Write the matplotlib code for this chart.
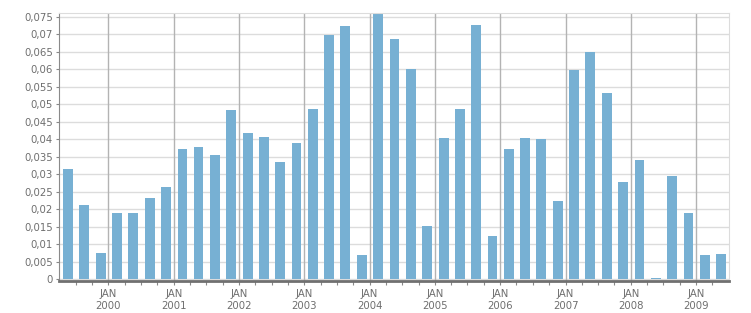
import numpy as np
import pandas as pd
import matplotlib
matplotlib.use("Agg")
import matplotlib.pyplot as plt
import matplotlib.dates as mdates
from matplotlib.ticker import FixedLocator, FuncFormatter

# quarterly values, Q2 1999 .. Q2 2009
first_quarter = "1999-04-01"
values = [0.0315, 0.0212, 0.0074, 0.0189,
          0.0189, 0.0232, 0.0263, 0.0372,
          0.0378, 0.0355, 0.0484, 0.0418,
          0.0407, 0.0335, 0.0389, 0.0487,
          0.0699, 0.0724, 0.0069, 0.0780,
          0.0687, 0.0601, 0.0152, 0.0404,
          0.0487, 0.0727, 0.0123, 0.0372,
          0.0404, 0.0401, 0.0223, 0.0598,
          0.0650, 0.0532, 0.0278, 0.0341,
          0.0003, 0.0295, 0.0189, 0.0069,
          0.0072]
years = list(range(2000, 2010))
yticks = np.arange(0, 0.0751, 0.005)

quarters = pd.date_range(first_quarter, periods=len(values), freq="QS")
centers = quarters + pd.Timedelta(days=48)

W, H = 751, 313
fig = plt.figure(figsize=(W / 100, H / 100), dpi=100)
ax = fig.add_axes([59.3 / W, 1 - 281 / H, (728.7 - 59.3) / W, (281 - 13.3) / H])

plt.rcParams['font.family'] = ['DejaVu Sans']
txt_col = '#6e6e6e'

ax.bar(mdates.date2num(centers), values, width=55, color='#77b0d3', zorder=3)

ax.set_xlim(mdates.date2num(pd.Timestamp("1999-04-01")), mdates.date2num(pd.Timestamp("2009-07-01")))
ax.set_ylim(-0.00057, 0.07606)

# horizontal grid
for v in yticks:
    ax.axhline(v, color='#dcdcdc', lw=1, zorder=1)
# year lines
jan = [mdates.date2num(pd.Timestamp(f"{y}-01-01")) for y in years]
for xv in jan:
    ax.axvline(xv, color='#b3b3b3', lw=1, zorder=2)

ax.set_yticks(yticks)
ax.yaxis.set_major_formatter(FuncFormatter(
    lambda v, p: "0" if abs(v) < 1e-9 else ("%g" % round(v, 3)).replace(".", ",")))
ax.tick_params(axis='y', length=2.5, width=0.8, color='#888888', pad=2,
               labelsize=7.3, labelcolor=txt_col)

ax.set_xticks(jan)
ax.set_xticklabels([f"JAN\n{y}" for y in years])
qs = pd.date_range("1999-07-01", "2009-06-30", freq="QS")
ax.xaxis.set_minor_locator(FixedLocator([mdates.date2num(q) for q in qs if q.month != 1]))
ax.tick_params(axis='x', which='major', length=3, width=0.8, color='#888888', pad=3,
               labelsize=7.3, labelcolor=txt_col)
ax.tick_params(axis='x', which='minor', length=3, width=0.8, color='#888888')
for lab in ax.get_xticklabels():
    lab.set_linespacing(1.25)

ax.spines['top'].set_color('#dcdcdc')
ax.spines['right'].set_color('#dcdcdc')
ax.spines['left'].set_color('#8a8a8a')
ax.spines['bottom'].set_color('#707070')
ax.spines['bottom'].set_linewidth(2)
for s in ax.spines.values():
    s.set_zorder(4)

fig.savefig("out.png", dpi=100)
